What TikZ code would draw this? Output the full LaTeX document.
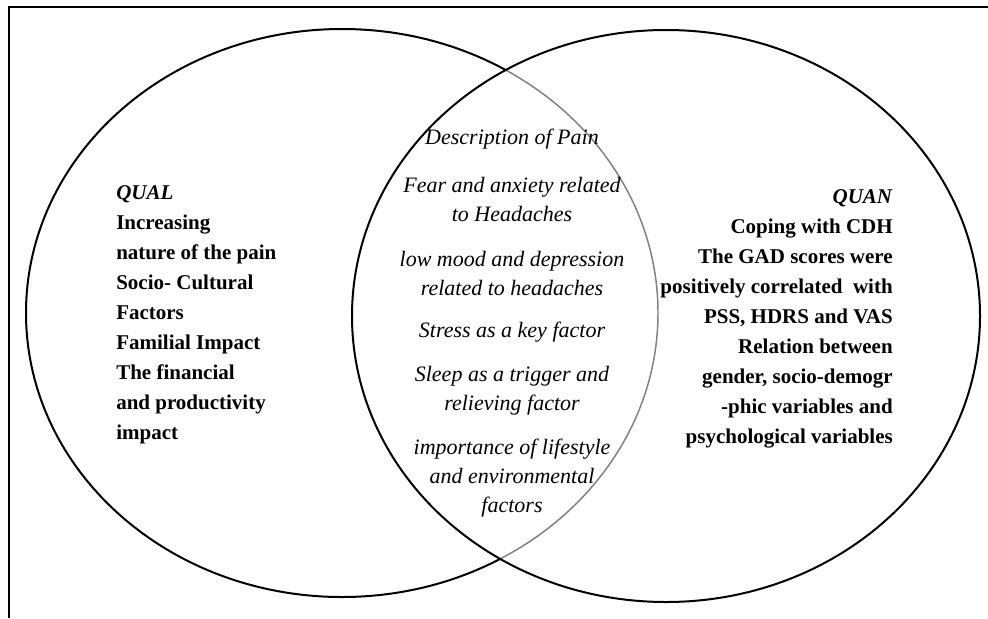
\documentclass[tikz,border=0pt]{standalone}
\usepackage{fontspec}
\setmainfont{Liberation Serif}
\usepackage{tikz}
\usetikzlibrary{positioning}
\tikzstyle{venn line}=[line width=1.5pt]
\tikzstyle{lens line}=[line width=1.1pt, black!50]
\tikzstyle{midtheme}=[align=center, inner sep=0pt, font=\fontsize{16.5}{21.75}\selectfont\itshape]
\tikzstyle{sidelist}=[inner sep=0pt, font=\fontsize{15.75}{22.5}\selectfont\bfseries]

\begin{document}
\begin{tikzpicture}[x=0.75pt, y=-0.75pt]
\useasboundingbox (0,0) rectangle (988,618);
% frame (top and left only)
\draw[line width=1.5pt] (9,618) -- (9,7) -- (988,7);
% the two sets
\draw[venn line] (342,313) ellipse [x radius=316, y radius=284];
\begin{scope}
  \clip (666,316) ellipse [x radius=314, y radius=286];
  \draw[white, line width=2.6pt] (342,313) ellipse [x radius=316, y radius=284];
  \draw[lens line] (342,313) ellipse [x radius=316, y radius=284];
\end{scope}
\draw[venn line] (666,316) ellipse [x radius=314, y radius=286];
% left set
\node[sidelist, align=left, anchor=west] (qual) at (116,315)
  {\textit{QUAL}\\Increasing\\nature of the pain\\Socio- Cultural\\Factors\\
   Familial Impact\\The financial\\and productivity\\impact};
% right set
\node[sidelist, align=right, anchor=east] (quan) at (893,319)
  {\textit{QUAN}\\Coping with CDH\\The GAD scores were\\positively correlated~ with\\
   PSS, HDRS and VAS\\Relation between\\gender, socio-demogr\\-phic variables and\\
   psychological variables};
% overlap
\node[midtheme] (desc) at (512,139) {Description of Pain};
\node[midtheme] (fear) at (512,199) {Fear and anxiety related\\to Headaches};
\node[midtheme] (mood) at (512,273) {low mood and depression\\related to headaches};
\node[midtheme] (stress) at (512,332) {Stress as a key factor};
\node[midtheme] (sleep) at (512,391) {Sleep as a trigger and\\relieving factor};
\node[midtheme] (life) at (512,478) {importance of lifestyle\\and environmental\\factors};
\end{tikzpicture}
\end{document}
